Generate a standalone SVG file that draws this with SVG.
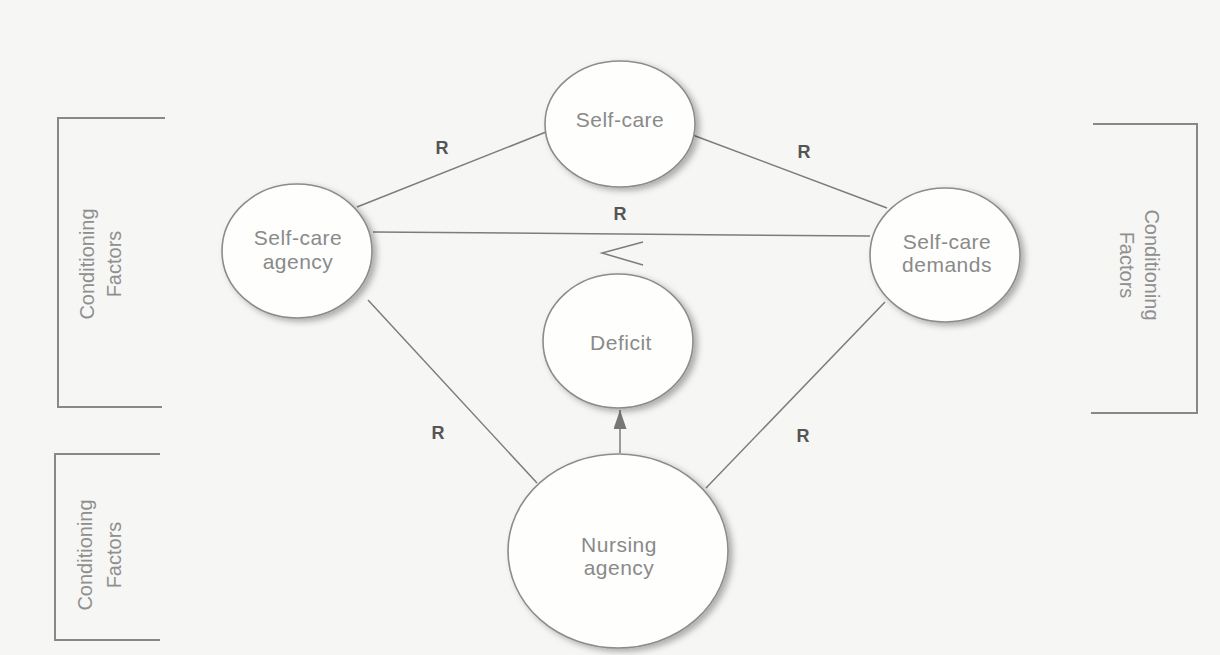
<svg xmlns="http://www.w3.org/2000/svg" width="1220" height="655" viewBox="0 0 1220 655">
<style>
.bg{fill:#f6f6f4}
.node{fill:#fefefd;stroke:#8c8c8c;stroke-width:1.6;filter:url(#sh)}
.lbl{font-family:"Liberation Sans",Arial,sans-serif;font-size:21px;letter-spacing:0.5px;fill:#8a8a8a;text-anchor:middle}
.cf{font-family:"Liberation Sans",Arial,sans-serif;font-size:20px;fill:#8f8f8f;text-anchor:middle}
.r{font-family:"Liberation Sans",Arial,sans-serif;font-size:18px;font-weight:bold;fill:#555;text-anchor:middle}
.ln{stroke:#7c7c7c;stroke-width:1.5;fill:none}
.br{stroke:#888;stroke-width:2;fill:none}
</style>
<defs>
<filter id="sh" x="-20%" y="-20%" width="150%" height="150%">
<feDropShadow dx="4" dy="3" stdDeviation="3" flood-color="#000" flood-opacity="0.3"/>
</filter>
<marker id="ah" viewBox="0 0 19 13" refX="19" refY="6.5" markerWidth="19" markerHeight="13" markerUnits="userSpaceOnUse" orient="auto">
<path d="M0,0 L19,6.5 L0,13 Z" fill="#777"/>
</marker>
</defs>
<rect class="bg" x="0" y="0" width="1220" height="655"/>

<g id="brackets">
<polyline class="br" points="165,118 58,118 58,407 162,407"/>
<polyline class="br" points="160,454 55,454 55,640 160,640"/>
<polyline class="br" points="1093,124 1197,124 1197,413 1091,413"/>
</g>

<g id="connectors">
<line class="ln" x1="357" y1="207" x2="546" y2="132"/>
<line class="ln" x1="690" y1="134" x2="887" y2="208"/>
<line class="ln" x1="373" y1="232" x2="870" y2="236"/>
<line class="ln" x1="368" y1="300" x2="537" y2="483"/>
<line class="ln" x1="885" y1="302" x2="706" y2="488"/>
<line class="ln" x1="620" y1="453" x2="620" y2="410" marker-end="url(#ah)"/>
<polyline class="ln" stroke-width="2" points="643,242 602,253 643,265"/>
</g>

<g id="self-care">
<ellipse class="node" cx="620" cy="124" rx="75" ry="63"/>
<text class="lbl" x="620" y="127">Self-care</text>
</g>
<g id="self-care-agency">
<ellipse class="node" cx="297" cy="251" rx="75" ry="67"/>
<text class="lbl" x="298" y="245">Self-care</text>
<text class="lbl" x="298" y="269">agency</text>
</g>
<g id="self-care-demands">
<ellipse class="node" cx="945" cy="255" rx="75" ry="67"/>
<text class="lbl" x="947" y="249">Self-care</text>
<text class="lbl" x="947" y="272">demands</text>
</g>
<g id="deficit">
<ellipse class="node" cx="618" cy="341" rx="75" ry="67"/>
<text class="lbl" x="621" y="350">Deficit</text>
</g>
<g id="nursing-agency">
<ellipse class="node" cx="618" cy="551" rx="110" ry="97"/>
<text class="lbl" x="619" y="552">Nursing</text>
<text class="lbl" x="619" y="575">agency</text>
</g>

<g id="r-labels">
<text class="r" x="442" y="154">R</text>
<text class="r" x="804" y="158">R</text>
<text class="r" x="620" y="220">R</text>
<text class="r" x="438" y="439">R</text>
<text class="r" x="803" y="442">R</text>
</g>

<g id="conditioning-factors">
<text class="cf" transform="translate(100,264) rotate(-90)"><tspan x="0" y="-6">Conditioning</tspan><tspan x="0" y="21">Factors</tspan></text>
<text class="cf" transform="translate(100,555) rotate(-90)"><tspan x="0" y="-8">Conditioning</tspan><tspan x="0" y="21">Factors</tspan></text>
<text class="cf" transform="translate(1140,265) rotate(90)"><tspan x="0" y="-5">Conditioning</tspan><tspan x="0" y="20">Factors</tspan></text>
</g>
</svg>
